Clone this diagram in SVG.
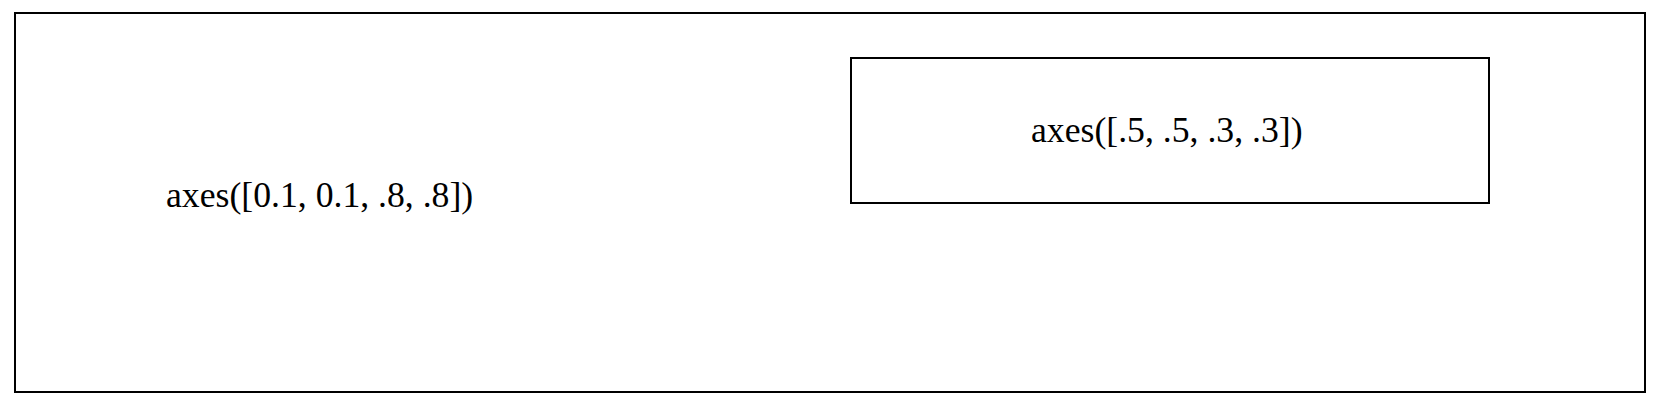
<svg xmlns="http://www.w3.org/2000/svg" width="1661" height="403" viewBox="0 0 1661 403">
<style>
.box{fill:none;stroke:#000;stroke-width:2}
.lbl{font-family:"Liberation Serif","Times New Roman",serif;font-size:35.7px;fill:#000}
</style>
<rect width="1661" height="403" fill="#fff"/>
<g id="outer">
<rect class="box" x="15" y="13" width="1630" height="379"/>
<text class="lbl" x="166" y="207">axes([0.1, 0.1, .8, .8])</text>
</g>
<g id="inner">
<rect class="box" x="851" y="58" width="638" height="145"/>
<text class="lbl" x="1031" y="142">axes([.5, .5, .3, .3])</text>
</g>
<g id="connectors"></g>
</svg>
